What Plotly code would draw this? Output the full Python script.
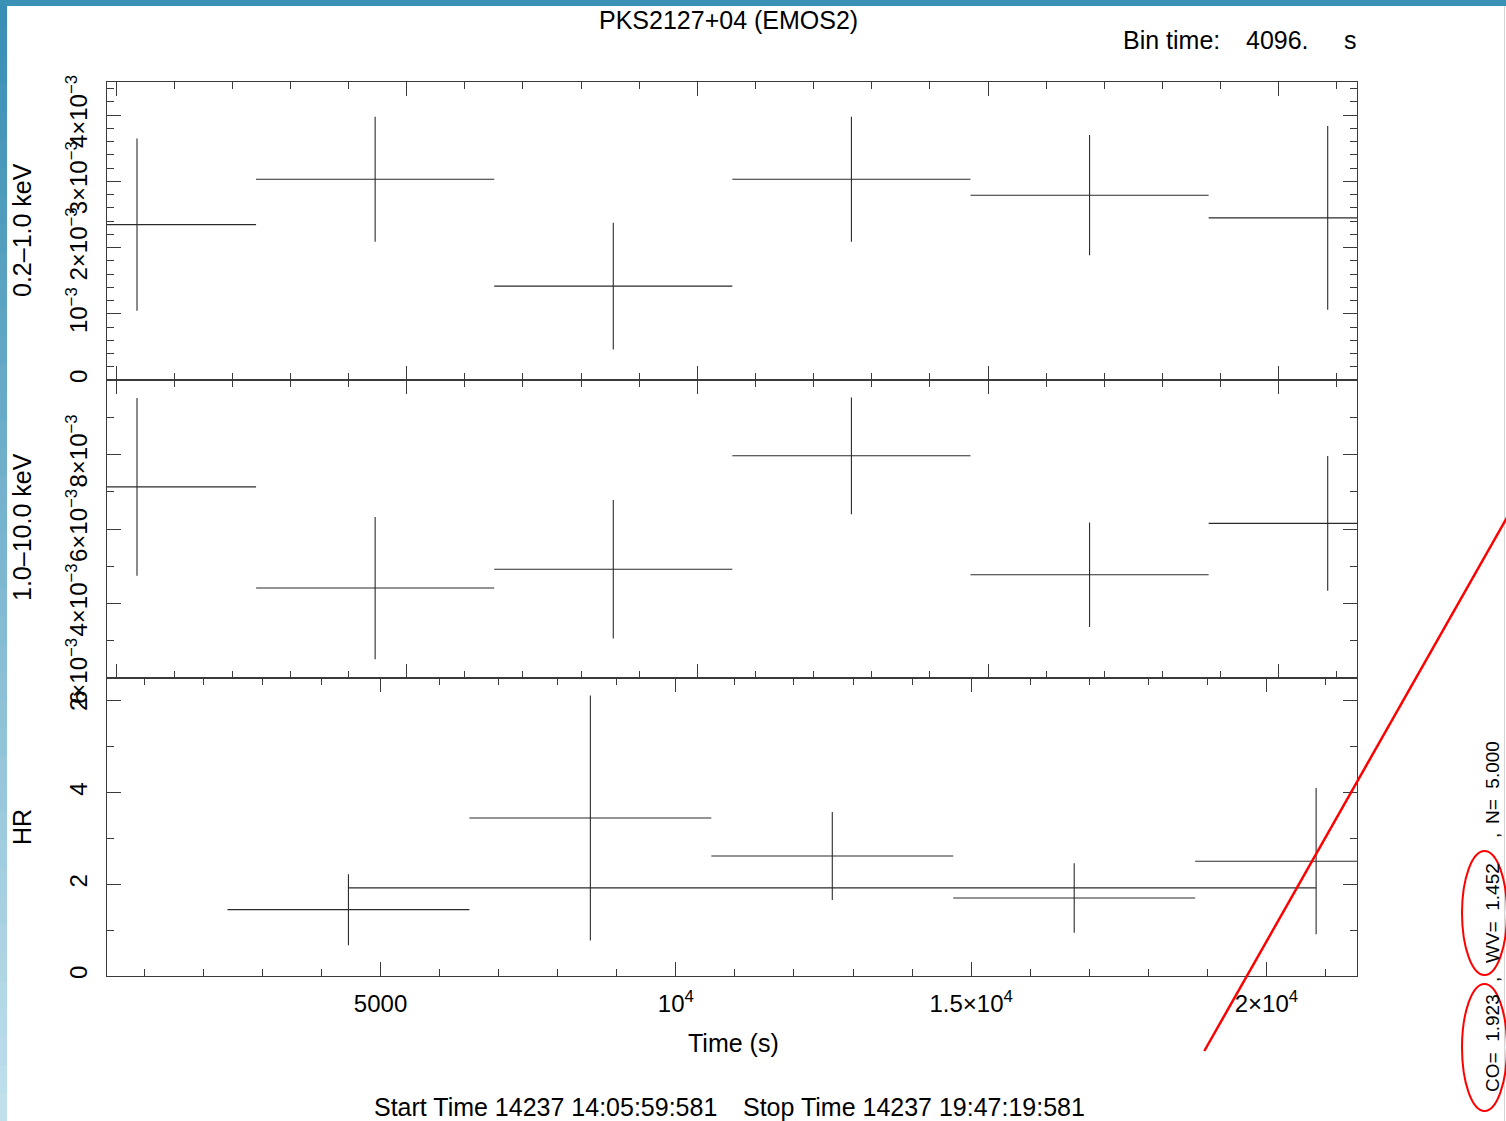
import plotly.graph_objects as go

# ---------------- data ----------------
bin_time = 4096.0
time_lc = [361, 4457, 8553, 12649, 16745, 20841]          # bin centres (s)
soft_rate = [2.347e-3, 3.032e-3, 1.418e-3, 3.032e-3, 2.790e-3, 2.448e-3]   # 0.2-1.0 keV
soft_err = [1.30e-3, 0.943e-3, 0.958e-3, 0.943e-3, 0.908e-3, 1.388e-3]
hard_rate = [7.13e-3, 4.415e-3, 4.92e-3, 7.965e-3, 4.772e-3, 6.15e-3]      # 1.0-10.0 keV
hard_err = [2.386e-3, 1.909e-3, 1.86e-3, 1.568e-3, 1.40e-3, 1.81e-3]
time_hr = [4457, 8553, 12649, 16745, 20841]
hr_ratio = [1.447, 3.447, 2.618, 1.702, 2.503]
hr_err = [0.775, 2.67, 0.96, 0.76, 1.595]
hr_const = [1.923]

x_range_lc = [-155, 21345]
x_range_hr = [369, 21533]
x_major = [0, 5000, 10000, 15000, 20000]
x_major_hr = [5000, 10000, 15000, 20000]
x_major_hr_text = ["5000", "10<sup>4</sup>", "1.5×10<sup>4</sup>", "2×10<sup>4</sup>"]

y1_vals = [0, 1e-3, 2e-3, 3e-3, 4e-3]
y1_text = ["0", "10<sup>−3</sup>", "2×10<sup>−3</sup>", "3×10<sup>−3</sup>", "4×10<sup>−3</sup>"]
y2_vals = [2e-3, 4e-3, 6e-3, 8e-3]
y2_text = ["2×10<sup>−3</sup>", "4×10<sup>−3</sup>", "6×10<sup>−3</sup>", "8×10<sup>−3</sup>"]
y3_vals = [0, 2, 4, 6]
y3_text = ["0", "2", "4", "6"]

# ---------------- geometry helpers ----------------
W, H = 1506, 1121
L, R, T, B = 107, 149, 82, 145
PW = W - L - R
PH = H - T - B


def px(x):
    return (x - L) / PW


def py(y):
    return (H - B - y) / PH


FONT = "Liberation Sans, Arial, Helvetica, sans-serif"
INK = "#2b2b2b"

fig = go.Figure()
err_style = dict(width=0, thickness=1.1, color=INK)
inv_marker = dict(size=1, color="rgba(0,0,0,0)")

fig.add_trace(go.Scatter(
    x=time_lc, y=soft_rate, mode="markers", marker=inv_marker,
    error_x=dict(type="constant", value=bin_time / 2, **err_style),
    error_y=dict(type="data", array=soft_err, **err_style),
    xaxis="x", yaxis="y", showlegend=False, hoverinfo="skip"))
fig.add_trace(go.Scatter(
    x=time_lc, y=hard_rate, mode="markers", marker=inv_marker,
    error_x=dict(type="constant", value=bin_time / 2, **err_style),
    error_y=dict(type="data", array=hard_err, **err_style),
    xaxis="x2", yaxis="y2", showlegend=False, hoverinfo="skip"))
fig.add_trace(go.Scatter(
    x=time_hr, y=hr_ratio, mode="markers", marker=inv_marker,
    error_x=dict(type="constant", value=bin_time / 2, **err_style),
    error_y=dict(type="data", array=hr_err, **err_style),
    xaxis="x3", yaxis="y3", showlegend=False, hoverinfo="skip"))
fig.add_trace(go.Scatter(
    x=[time_hr[0], time_hr[-1]], y=[hr_const[0], hr_const[0]], mode="lines",
    line=dict(color=INK, width=1.1),
    xaxis="x3", yaxis="y3", showlegend=False, hoverinfo="skip"))

axis_common = dict(showline=True, linecolor="#3a3a3a", linewidth=1.2, mirror="ticks",
                   ticks="inside", tickcolor="#3a3a3a", tickwidth=1.2,
                   showgrid=False, zeroline=False, fixedrange=True,
                   tickfont=dict(family=FONT, size=24, color="#000"))


def minor(dt, t0=0):
    return dict(tickmode="linear", tick0=t0, dtick=dt, ticks="inside", ticklen=7,
                tickcolor="#3a3a3a", tickwidth=1.2, showgrid=False)


fig.update_layout(
    width=W, height=H,
    margin=dict(l=L, r=R, t=T, b=B, pad=0),
    paper_bgcolor="white", plot_bgcolor="white",
    showlegend=False,
    xaxis=dict(domain=[0, 1], anchor="y", range=x_range_lc, tickmode="array", tickvals=x_major,
               ticklen=14, showticklabels=False, minor=minor(1000), **axis_common),
    xaxis2=dict(domain=[0, 1], anchor="y2", range=x_range_lc, tickmode="array", tickvals=x_major,
                ticklen=14, showticklabels=False, minor=minor(1000), **axis_common),
    xaxis3=dict(domain=[0, 1], anchor="y3", range=x_range_hr, tickmode="array", tickvals=x_major_hr,
                ticktext=x_major_hr_text, ticklen=14, ticklabelstandoff=6,
                minor=minor(1000), **axis_common),
    yaxis=dict(domain=[2 / 3, 1], anchor="x", range=[0, 4.5e-3], tickmode="array",
               tickvals=y1_vals, ticktext=y1_text, tickangle=-90, ticklen=14,
               ticklabelstandoff=9, minor=minor(2e-4), **axis_common),
    yaxis2=dict(domain=[1 / 3, 2 / 3], anchor="x2", range=[2e-3, 10e-3], tickmode="array",
                tickvals=y2_vals, ticktext=y2_text, tickangle=-90, ticklen=14,
                ticklabelstandoff=9, minor=minor(1e-3), **axis_common),
    yaxis3=dict(domain=[0, 1 / 3], anchor="x3", range=[0, 6.5], tickmode="array",
                tickvals=y3_vals, ticktext=y3_text, tickangle=-90, ticklen=14,
                ticklabelstandoff=9, minor=minor(1), **axis_common),
)

# ---------------- text ----------------
ann = []


def text(x, y, s, size=25, xanchor="center", angle=0, color="#000"):
    ann.append(dict(x=px(x), y=py(y), xref="paper", yref="paper", text=s, showarrow=False,
                    xanchor=xanchor, yanchor="middle", textangle=angle,
                    font=dict(family=FONT, size=size, color=color)))


text(728, 20, "PKS2127+04 (EMOS2)")
text(1121, 40, "Bin time:", xanchor="left")
text(1244, 40, "4096.", xanchor="left")
text(1342, 40, "s", xanchor="left")
text(733, 1043, "Time (s)")
text(372, 1107, "Start Time 14237 14:05:59:581", xanchor="left")
text(741, 1107, "Stop Time 14237 19:47:19:581", xanchor="left")
text(22, 230, "0.2–1.0 keV", angle=-90)
text(22, 527, "1.0–10.0 keV", angle=-90)
text(22, 827, "HR", angle=-90)
text(1492, 1043, "CO=\u00a0 1.923", size=19, angle=-90)
text(1492, 980, ",", size=19, angle=-90)
text(1492, 913, "WV=\u00a0 1.452", size=19, angle=-90)
text(1492, 836, ",", size=19, angle=-90)
text(1492, 783, "N=\u00a0 5.000", size=19, angle=-90)
fig.update_layout(annotations=ann)

# ---------------- decorations (frame, hand-drawn marks) ----------------
shapes = []
n = 40
c0 = (56, 142, 180)
c1 = (192, 224, 236)
for i in range(n):
    f = i / (n - 1)
    col = "rgb(%d,%d,%d)" % tuple(int(a + (b - a) * f) for a, b in zip(c0, c1))
    y0 = H * i / n
    y1 = H * (i + 1) / n + 1
    shapes.append(dict(type="rect", xref="paper", yref="paper", x0=px(0), x1=px(7),
                       y0=py(y1), y1=py(y0), line=dict(width=0), fillcolor=col, layer="above"))
shapes.append(dict(type="rect", xref="paper", yref="paper", x0=px(0), x1=px(W),
                   y0=py(6), y1=py(0), line=dict(width=0), fillcolor="rgb(58,145,182)", layer="above"))
shapes.append(dict(type="line", xref="paper", yref="paper", x0=px(1504.5), x1=px(1504.5),
                   y0=py(H), y1=py(6), line=dict(color="#d4d4d4", width=1), layer="above"))
# red diagonal stroke
shapes.append(dict(type="line", xref="paper", yref="paper", x0=px(1204.3), y0=py(1051),
                   x1=px(1512), y1=py(508.7), line=dict(color="#ff0000", width=2.5), layer="above"))
# red ellipses
shapes.append(dict(type="circle", xref="paper", yref="paper", x0=px(1462), x1=px(1507),
                   y0=py(975), y1=py(851), line=dict(color="#ff0000", width=2), layer="above"))
shapes.append(dict(type="circle", xref="paper", yref="paper", x0=px(1462), x1=px(1507),
                   y0=py(1111), y1=py(984), line=dict(color="#ff0000", width=2), layer="above"))
fig.update_layout(shapes=shapes)

fig.write_html("out.html")
